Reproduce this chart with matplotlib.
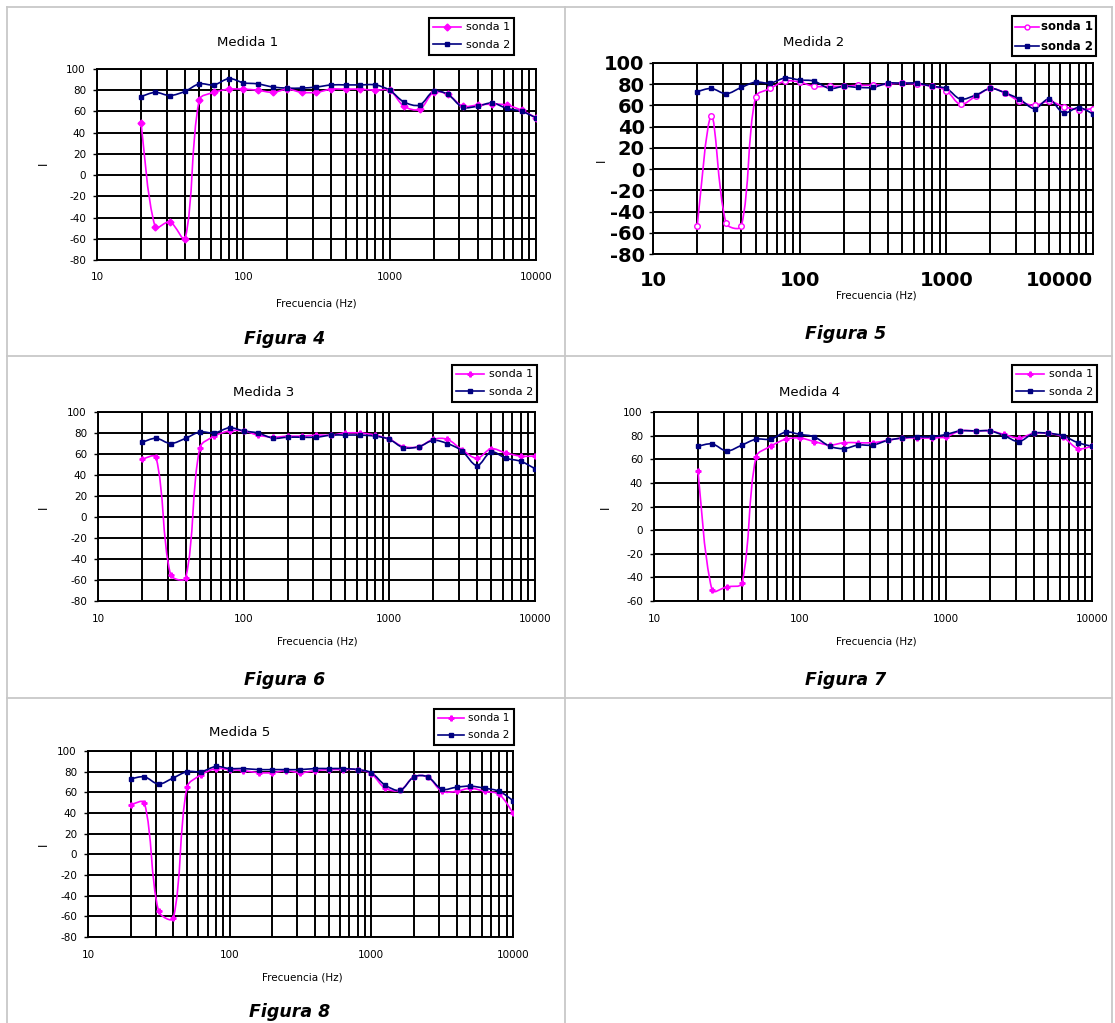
import numpy as np
import matplotlib
matplotlib.use("Agg")
import matplotlib.pyplot as plt
from matplotlib.path import Path
from matplotlib.patches import PathPatch, Rectangle
from matplotlib.lines import Line2D
from matplotlib.ticker import LogLocator, NullFormatter

# 1/3 octave band centres (Hz)
FREQ = [20, 25, 31.5, 40, 50, 63, 80, 100, 125, 160, 200, 250, 315, 400,
        500, 630, 800, 1000, 1250, 1600, 2000, 2500, 3150, 4000, 5000,
        6300, 8000, 10000]

m1_sonda1 = [49, -49, -44, -60, 71, 78, 81, 81, 80, 78, 81, 78, 78, 81,
             81, 81, 80, 80, 65, 62, 78, 76, 65, 66, 67, 66, 61, 54]
m1_sonda2 = [74, 78, 75, 79, 86, 85, 91, 87, 86, 83, 82, 82, 83, 85,
             85, 85, 85, 80, 69, 66, 79, 76, 64, 65, 68, 63, 60, 54]

m2_sonda1 = [-54, 50, -51, -54, 68, 76, 83, 82, 78, 78, 78, 79, 79, 80,
             81, 80, 78, 74, 61, 69, 76, 72, 64, 60, 64, 59, 56, 57]
m2_sonda2 = [73, 76, 71, 77, 82, 81, 86, 84, 83, 76, 78, 77, 77, 81,
             81, 81, 78, 76, 66, 70, 76, 72, 66, 57, 66, 53, 58, 52]

m3_sonda1 = [55, 57, -55, -58, 66, 77, 82, 82, 78, 76, 77, 77, 78, 78,
             80, 80, 78, 74, 67, 67, 74, 74, 64, 56, 65, 61, 58, 58]
m3_sonda2 = [71, 75, 70, 75, 81, 80, 85, 82, 80, 75, 76, 76, 76, 78,
             78, 78, 77, 74, 66, 67, 73, 70, 63, 49, 62, 56, 53, 46]

m4_sonda1 = [50, -51, -48, -45, 62, 71, 77, 78, 75, 72, 74, 74, 74, 76,
             78, 78, 78, 79, 84, 84, 84, 81, 78, 82, 82, 79, 69, 71]
m4_sonda2 = [71, 73, 67, 72, 77, 77, 83, 81, 79, 71, 69, 72, 72, 76,
             78, 79, 79, 81, 84, 84, 84, 80, 75, 82, 82, 80, 74, 71]

m5_sonda1 = [48, 50, -55, -62, 65, 77, 83, 82, 81, 79, 79, 81, 79, 81,
             82, 82, 82, 78, 64, 62, 75, 75, 61, 61, 64, 61, 58, 40]
m5_sonda2 = [73, 75, 68, 74, 80, 80, 85, 83, 83, 82, 82, 82, 82, 83,
             83, 83, 82, 79, 67, 62, 75, 75, 63, 65, 66, 64, 61, 52]

X_TICKS = [10, 100, 1000, 10000]
X_LABELS = ["10", "100", "1000", "10000"]
LEGEND_LABELS = ["sonda 1", "sonda 2"]

MAGENTA = "#ff00ff"
NAVY = "#000080"
GRID = "black"
BORDER = "#c8c8c8"

W, H = 1115, 1023

# layout of each chart in pixels: axes box, title, x label, y label, caption, legend
charts = [
    dict(s1=m1_sonda1, s2=m1_sonda2, ymin=-80, title="Medida 1", fig="Figura 4",
         box=(97, 69, 536, 260), tpos=(248, 43), xlpos=(316, 303), ylpos=(43, 163),
         fpos=(285, 339), leg=(429, 18), legfs=8, m1="D", big=False),
    dict(s1=m2_sonda1, s2=m2_sonda2, ymin=-80, title="Medida 2", fig="Figura 5",
         box=(653, 63, 1093, 254), tpos=(814, 42), xlpos=(876, 296), ylpos=(601, 160),
         fpos=(846, 334), leg=(1012, 16), legfs=8, m1="o", big=True),
    dict(s1=m3_sonda1, s2=m3_sonda2, ymin=-80, title="Medida 3", fig="Figura 6",
         box=(98, 412, 535, 601), tpos=(264, 392), xlpos=(317, 642), ylpos=(43, 507),
         fpos=(285, 680), leg=(452, 365), legfs=8, m1="P", big=False),
    dict(s1=m4_sonda1, s2=m4_sonda2, ymin=-60, title="Medida 4", fig="Figura 7",
         box=(654, 412, 1092, 601), tpos=(810, 393), xlpos=(876, 642), ylpos=(605, 507),
         fpos=(846, 680), leg=(1012, 365), legfs=8, m1="P", big=False),
    dict(s1=m5_sonda1, s2=m5_sonda2, ymin=-80, title="Medida 5", fig="Figura 8",
         box=(88, 751, 513, 937), tpos=(240, 732), xlpos=(302, 978), ylpos=(43, 844),
         fpos=(290, 1012), leg=(434, 709), legfs=7.5, m1="P", big=False),
]


def fx(x):
    return x / W


def fy(y):
    return 1 - y / H


def smooth_patch(freqs, values, sx, sy, color, lw, z):
    # Excel-like smoothed line: Bezier through the points, tangents weighted
    # by the on-screen length of the neighbouring segments
    px = np.log10(np.asarray(freqs, float)) * sx
    py = np.asarray(values, float) * sy
    P = np.column_stack([px, py])
    n = len(P)
    d = np.hypot(*np.diff(P, axis=0).T)
    c_out = np.zeros_like(P)
    c_in = np.zeros_like(P)
    c_out[0] = P[0] + (P[1] - P[0]) / 6
    c_in[-1] = P[-1] - (P[-1] - P[-2]) / 6
    for i in range(1, n - 1):
        T = P[i + 1] - P[i - 1]
        a, b = d[i - 1], d[i]
        c_out[i] = P[i] + T * b / (a + b) / 3
        c_in[i] = P[i] - T * a / (a + b) / 3
    verts = [P[0]]
    codes = [Path.MOVETO]
    for i in range(n - 1):
        verts += [c_out[i], c_in[i + 1], P[i + 1]]
        codes += [Path.CURVE4] * 3
    verts = np.array(verts)
    verts[:, 0] = 10 ** (verts[:, 0] / sx)
    verts[:, 1] = verts[:, 1] / sy
    return PathPatch(Path(verts, codes), fill=False, edgecolor=color,
                     lw=lw, zorder=z, capstyle="round", joinstyle="round")


fig = plt.figure(figsize=(W / 100, H / 100), dpi=100)
fig.patch.set_facecolor("white")

# table borders
for x in (7, 565, 1112):
    fig.add_artist(Line2D([fx(x)] * 2, [fy(7), fy(1023)], color=BORDER, lw=1.3))
for y in (7, 356, 698):
    fig.add_artist(Line2D([fx(7), fx(1112)], [fy(y)] * 2, color=BORDER, lw=1.3))

for c in charts:
    l, t, r, b = c["box"]
    ax = fig.add_axes([fx(l), fy(b), (r - l) / W, (b - t) / H])
    ax.set_xscale("log")
    ax.set_xlim(10, 10000)
    ax.set_ylim(c["ymin"], 100)

    yt = list(range(c["ymin"], 101, 20))
    if c["big"]:
        tick_kw = dict(fontsize=14, fontweight="bold")
        xpad, ypad = 12, 3
    else:
        tick_kw = dict(fontsize=7.5)
        xpad, ypad = 9, 5
    ax.set_yticks(yt, labels=[str(v) for v in yt], **tick_kw)
    ax.set_xticks(X_TICKS, labels=X_LABELS, **tick_kw)
    if c["big"]:
        ax.get_xticklabels()[-1].set_horizontalalignment("right")
    ax.xaxis.set_minor_locator(LogLocator(base=10, subs=np.arange(2, 10)))
    ax.xaxis.set_minor_formatter(NullFormatter())
    ax.tick_params(axis="y", which="major", length=3, width=1, pad=ypad)
    ax.tick_params(axis="x", which="both", length=0, pad=xpad)

    ax.grid(True, axis="y", which="major", color=GRID, lw=1.4)
    ax.grid(True, axis="x", which="both", color=GRID, lw=1.4)
    ax.set_axisbelow(True)
    for sp in ax.spines.values():
        sp.set_color("black")
        sp.set_linewidth(1.4)

    sx = (r - l) / 3.0
    sy = (b - t) / (100.0 - c["ymin"])
    ax.add_patch(smooth_patch(FREQ, c["s1"], sx, sy, MAGENTA, 1.2, 3))
    ax.add_patch(smooth_patch(FREQ, c["s2"], sx, sy, NAVY, 1.2, 4))
    if c["m1"] == "o":
        ax.plot(FREQ, c["s1"], ls="none", marker="o", ms=4, mfc="white",
                mec=MAGENTA, mew=1, zorder=5)
    else:
        ax.plot(FREQ, c["s1"], ls="none", marker=c["m1"], ms=3.5,
                color=MAGENTA, zorder=5)
    ax.plot(FREQ, c["s2"], ls="none", marker="s", ms=3.2, color=NAVY, zorder=6)

    fig.text(fx(c["tpos"][0]), fy(c["tpos"][1]), c["title"], ha="center",
             va="center", fontsize=9.5)
    fig.text(fx(c["xlpos"][0]), fy(c["xlpos"][1]), "Frecuencia (Hz)",
             ha="center", va="center", fontsize=7.5)
    fig.text(fx(c["ylpos"][0]), fy(c["ylpos"][1]), "I", ha="center",
             va="center", fontsize=8.5, rotation=90)
    fig.text(fx(c["fpos"][0]), fy(c["fpos"][1]), c["fig"], ha="center",
             va="center", fontsize=12.5, fontweight="bold", fontstyle="italic")

    h1 = Line2D([], [], color=MAGENTA, lw=1.2, marker=c["m1"], ms=3.5,
                mfc="white" if c["m1"] == "o" else MAGENTA, mec=MAGENTA)
    h2 = Line2D([], [], color=NAVY, lw=1.2, marker="s", ms=3.2)

    lx0, ly0 = c["leg"]
    if c["big"]:
        # hand-built legend box with bold labels, as in the original
        box = Rectangle((fx(lx0), fy(ly0 + 40)), 84 / W, 40 / H,
                        transform=fig.transFigure, fc="white", ec="black",
                        lw=1.5, zorder=10)
        fig.add_artist(box)
        for k, (yy, col, mk) in enumerate([(11, MAGENTA, "o"), (30, NAVY, "s")]):
            fig.add_artist(Line2D([fx(lx0 + 3), fx(lx0 + 27)], [fy(ly0 + yy)] * 2,
                                  color=col, lw=1.2, zorder=11))
            fig.add_artist(Line2D([fx(lx0 + 15)], [fy(ly0 + yy)], color=col,
                                  marker=mk, ms=3.5,
                                  mfc="white" if mk == "o" else col,
                                  ls="none", zorder=11))
            fig.text(fx(lx0 + 29), fy(ly0 + yy), LEGEND_LABELS[k],
                     ha="left", va="center", fontsize=8.5, fontweight="bold",
                     zorder=12)
    else:
        leg = ax.legend([h1, h2], LEGEND_LABELS, loc="upper left",
                        bbox_to_anchor=(fx(lx0), fy(ly0)),
                        bbox_transform=fig.transFigure, borderaxespad=0,
                        fontsize=c["legfs"], fancybox=False, framealpha=1,
                        edgecolor="black", borderpad=0.4, handlelength=2.5,
                        handletextpad=0.4, labelspacing=0.7)
        leg.get_frame().set_linewidth(1.5)

fig.savefig("out.png", dpi=100, facecolor="white")
